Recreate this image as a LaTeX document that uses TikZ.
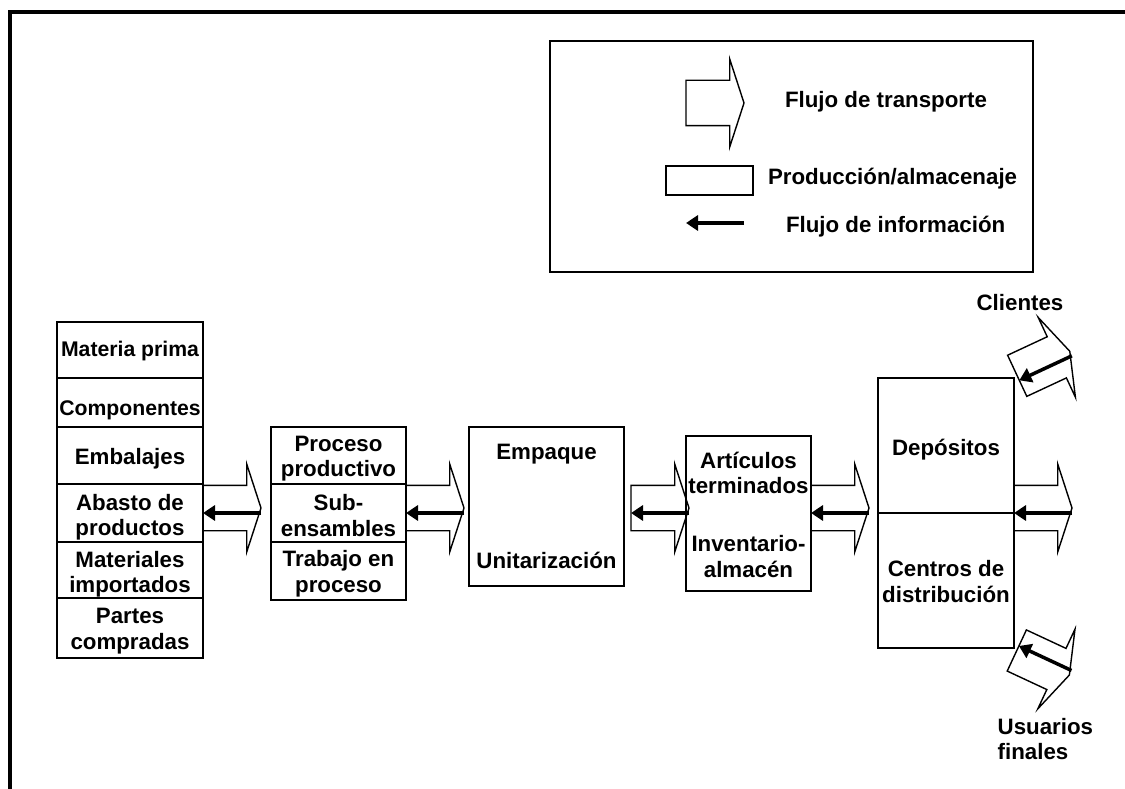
\documentclass[tikz,border=0pt]{standalone}
\usepackage{fontspec}
\setmainfont{Liberation Sans}
\usetikzlibrary{shapes.arrows,arrows.meta,calc}
\begin{document}
\begin{tikzpicture}[x=1pt,y=-1pt,
  lbl/.style={font=\fontsize{22.3}{25.5}\selectfont\bfseries, align=center, inner sep=0pt, outer sep=0pt},
  narrow/.style={font=\fontsize{21.2}{25.5}\selectfont\bfseries},
  box/.style={draw, line width=1.8pt, inner sep=0pt, outer sep=0pt},
  transport/.style={draw, line width=1.4pt, single arrow, inner xsep=0pt, inner ysep=22pt,
     single arrow head extend=21.3pt, single arrow tip angle=144, minimum height=58pt,
     outer sep=0pt, anchor=tail},
  info/.style={line width=3.5pt, -{Triangle[length=12pt,width=15pt]}},
]
\useasboundingbox (0,0) rectangle (1125,789);

% page frame (top and left edges)
\draw[line width=4pt] (10.3,789) -- (10.3,12) -- (1125,12);

% legend
\node[box, line width=1.4pt, minimum width=483, minimum height=231] (leg) at (791.5,156.5) {};
\node[transport] (tl) at (686,103) {};
\node[lbl, anchor=base west] (ltx1) at (785,107.3) {Flujo de transporte};
\node[box, line width=1.4pt, minimum width=87, minimum height=29] (lr) at (709.5,180.5) {};
\node[lbl, anchor=base west] (ltx2) at (768,185) {Producción/almacenaje};
\coordinate (li1) at (744,223);
\coordinate (li2) at (686,223);
\draw[info] (li1) -- (li2);
\node[lbl, anchor=base west] (ltx3) at (786,232.3) {Flujo de información};

% supply column
\node[box, minimum width=146, minimum height=56] (mp) at (130,350) {};
\node[box, minimum width=146, minimum height=49] (co) at (130,402.5) {};
\node[box, minimum width=146, minimum height=57] (em) at (130,455.5) {};
\node[box, minimum width=146, minimum height=58] (ab) at (130,513) {};
\node[box, minimum width=146, minimum height=56] (mi) at (130,570) {};
\node[box, minimum width=146, minimum height=60] (pc) at (130,628) {};
\node[lbl, narrow] (mpt) at ([yshift=-1.2pt]mp.center) {Materia prima};
\node[lbl, narrow] (cot) at ([yshift=-7.7pt]co.center) {Componentes};
\node[lbl] (emt) at ([yshift=-3.7pt]em.center) {Embalajes};
\node[lbl] (abt) at ([yshift=-4pt]ab.center) {Abasto de\\productos};
\node[lbl] (mit) at ([yshift=-4.3pt]mi.center) {Materiales\\importados};
\node[lbl] (pct) at ([yshift=-3pt]pc.center) {Partes\\compradas};

% production
\node[box, minimum width=135, minimum height=57] (pp) at (338.5,455.5) {};
\node[box, minimum width=135, minimum height=58] (se) at (338.5,513) {};
\node[box, minimum width=135, minimum height=58] (tp) at (338.5,571) {};
\node[lbl] (ppt) at ([yshift=-3pt]pp.center) {Proceso\\productivo};
\node[lbl] (set) at ([yshift=-2.3pt]se.center) {Sub-\\ensambles};
\node[lbl] (tpt) at ([yshift=-2.6pt]tp.center) {Trabajo en\\proceso};

% packing
\node[box, minimum width=155, minimum height=159] (emp) at (546.5,506.5) {};
\node[lbl] (emp1) at (546.5,454) {Empaque};
\node[lbl] (emp2) at (546.5,560) {Unitarización};

% finished goods
\node[box, minimum width=125, minimum height=155] (art) at (748.5,513.5) {};
\node[lbl] (art1) at (748.5,473) {Artículos\\terminados};
\node[lbl] (art2) at (748.5,556.3) {Inventario-\\almacén};

% distribution
\node[box, minimum width=136, minimum height=135] (dep) at (946,445.5) {};
\node[box, minimum width=136, minimum height=135] (cdd) at (946,580.5) {};
\node[lbl] (dept) at ([yshift=-3.7pt]dep.center) {Depósitos};
\node[lbl] (cddt) at ([yshift=-1pt]cdd.center) {Centros de\\distribución};

% transport flows
\node[transport] (t1) at (mp.east |- 0,508) {};
\node[transport] (t2) at (pp.east |- 0,508) {};
\node[transport] (t3) at (631,508) {};
\node[transport] (t4) at (art.east |- 0,508) {};
\node[transport] (t5) at (dep.east |- 0,508) {};
\node[transport, rotate=25] (tc) at (1017.2,375.8) {};
\node[transport, rotate=-25] (tu) at (1016.8,650.5) {};

% information flows
\foreach \t in {t1,t2,t3,t4,t5,tc}
  \draw[info] ($(\t.tip)!5pt!90:(\t.tail)$) -- ($(\t.tail)!5pt!-90:(\t.tip)$);
\draw[info] ($(tu.tip)!5pt!-90:(tu.tail)$) -- ($(tu.tail)!5pt!90:(tu.tip)$);

% end points
\node[lbl, anchor=base] (cli) at (1020,310.7) {Clientes};
\node[lbl, align=left, anchor=north west] (usu) at (997.7,718) {Usuarios\\finales};
\end{tikzpicture}
\end{document}
